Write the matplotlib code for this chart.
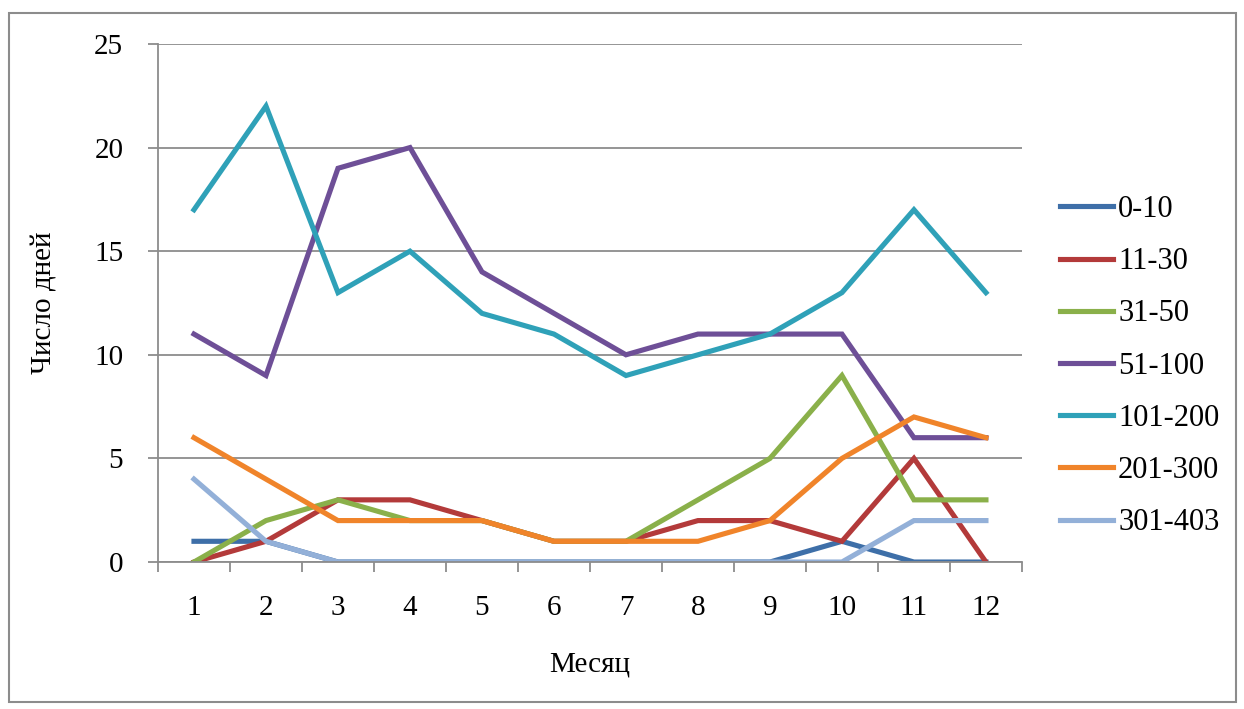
import matplotlib
matplotlib.use('Agg')
import matplotlib.pyplot as plt
from matplotlib.patches import Rectangle

# Число дней по месяцам для каждого диапазона
months = [1, 2, 3, 4, 5, 6, 7, 8, 9, 10, 11, 12]
labels = ['0-10', '11-30', '31-50', '51-100', '101-200', '201-300', '301-403']
s_0_10 = [1, 1, 0, 0, 0, 0, 0, 0, 0, 1, 0, 0]
s_11_30 = [0, 1, 3, 3, 2, 1, 1, 2, 2, 1, 5, 0]
s_31_50 = [0, 2, 3, 2, 2, 1, 1, 3, 5, 9, 3, 3]
s_51_100 = [11, 9, 19, 20, 14, 12, 10, 11, 11, 11, 6, 6]
s_101_200 = [17, 22, 13, 15, 12, 11, 9, 10, 11, 13, 17, 13]
s_201_300 = [6, 4, 2, 2, 2, 1, 1, 1, 2, 5, 7, 6]
s_301_403 = [4, 1, 0, 0, 0, 0, 0, 0, 0, 0, 2, 2]
series = [s_0_10, s_11_30, s_31_50, s_51_100, s_101_200, s_201_300, s_301_403]
colors = ['#3E6FA8', '#B33A3A', '#8AB04A', '#6E4F97', '#2FA1B8', '#F0842A', '#93B0D8']

plt.rcParams['font.family'] = ['Liberation Serif', 'DejaVu Serif']
fs = 21

fig = plt.figure(figsize=(12.44, 7.09), dpi=100)
ax = fig.add_axes([0.127, 0.2073, 0.6945, 0.7307])

for vals, lab, col in zip(series, labels, colors):
    ax.plot(months, vals, color=col, lw=3.7, label=lab, solid_joinstyle='miter')

ax.set_xlim(0.5, 12.5)
ax.set_ylim(0, 25)
ax.set_yticks(range(0, 26, 5))
ax.set_xticks(months)
ax.set_xticks([m + 0.5 for m in range(0, 13)], minor=True)
ax.grid(axis='y', color='#8c8c8c', lw=1.3)
ax.set_axisbelow(True)

for side in ['top', 'right']:
    ax.spines[side].set_visible(False)
for side in ['left', 'bottom']:
    ax.spines[side].set_color('#8c8c8c')
    ax.spines[side].set_linewidth(1.3)

ax.tick_params(axis='x', which='major', length=0, pad=24, labelsize=fs)
ax.tick_params(axis='x', which='minor', length=7, width=1.3, color='#8c8c8c')
ax.tick_params(axis='y', length=7, width=1.3, color='#8c8c8c', pad=18, labelsize=fs)

ax.set_xlabel('Месяц', fontsize=fs, labelpad=22)
ax.set_ylabel('Число дней', fontsize=fs, labelpad=26)

ax.legend(loc='center left', bbox_to_anchor=(1.044, 0.378), frameon=False,
          fontsize=22, handlelength=1.75, handletextpad=0.15, labelspacing=0.76,
          borderpad=0, borderaxespad=0)

fig.patches.append(Rectangle((0.0075, 0.01), 0.986, 0.972, transform=fig.transFigure,
                             fill=False, edgecolor='#8c8c8c', lw=1.5))

fig.savefig('out.png', dpi=100)
